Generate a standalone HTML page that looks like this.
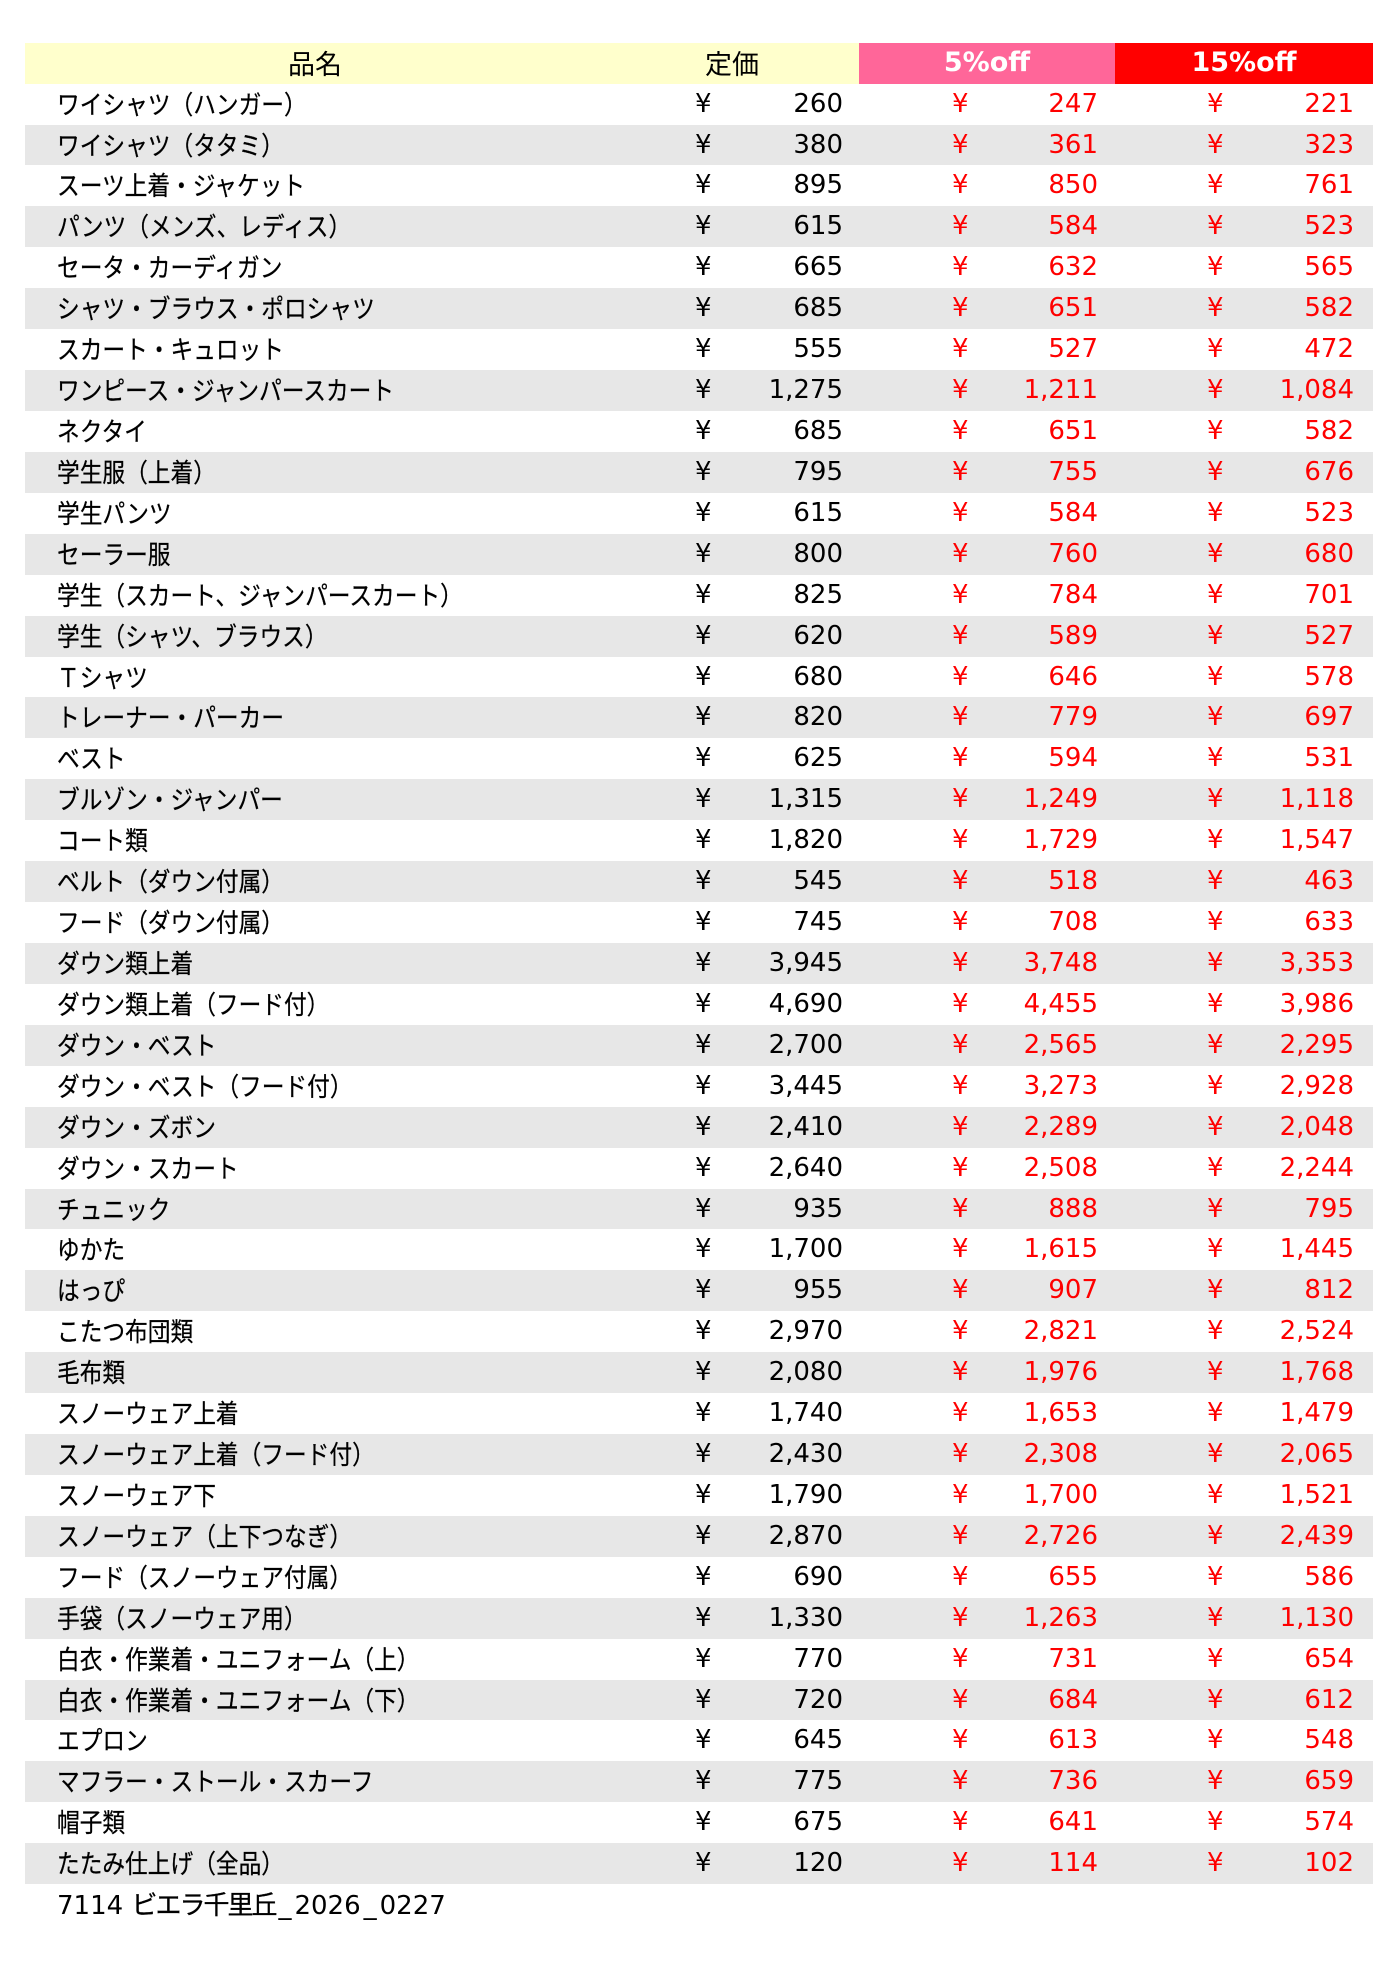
<!DOCTYPE html>
<html><head><meta charset="utf-8">
<style>
html,body{margin:0;padding:0;background:#fff;}
body{width:1400px;height:1972px;position:relative;overflow:hidden;}
#t{position:absolute;left:25px;top:42.7px;width:1348px;}
.r{position:relative;height:40.93px;width:1348px;}
.g{background:#e7e7e7;}
.h .c{position:absolute;top:0;height:40.93px;line-height:40.93px;text-align:center;}
.jp{font-family:"Noto Sans CJK JP","Liberation Sans",sans-serif;font-size:27px;color:#000;}
.n{position:absolute;left:32px;top:0;line-height:40.93px;white-space:nowrap;transform:scaleX(.873);transform-origin:0 0;font-family:"Noto Sans CJK JP","Liberation Sans",sans-serif;font-size:26px;color:#000;-webkit-text-stroke:0.25px #000;}
.y,.v{position:absolute;top:0;line-height:40.93px;font-family:"DejaVu Sans",sans-serif;font-size:26px;white-space:nowrap;}
.y1{left:670px;color:#000;}
.v1{right:530px;color:#000;}
.y2{left:927px;color:#f00;}
.v2{right:275px;color:#f00;}
.y3{left:1182px;color:#f00;}
.v3{right:19px;color:#f00;}
.off{font-family:"DejaVu Sans",sans-serif;font-weight:bold;font-size:27px;color:#fff;}
.ft{position:absolute;left:32px;top:0;line-height:40.93px;white-space:nowrap;font-family:"DejaVu Sans",sans-serif;font-size:26px;color:#000;}
.ft .k{font-family:"Noto Sans CJK JP",sans-serif;font-size:26px;letter-spacing:-2px;-webkit-text-stroke:0.25px #000;}
.ft .u{padding:0 3px;}
</style></head><body>
<div id="t">
<div class="r h">
<div class="c" style="left:0;width:834px;background:#ffffcc;"></div>
<div class="c jp" style="left:0;width:580px;">品名</div>
<div class="c jp" style="left:580px;width:254px;">定価</div>
<div class="c off" style="left:834px;width:256px;background:#ff6699;">5%off</div>
<div class="c off" style="left:1090px;width:258px;background:#ff0000;">15%off</div>
</div>
<div class="r"><span class="n">ワイシャツ（ハンガー）</span><span class="y y1">¥</span><span class="v v1">260</span><span class="y y2">¥</span><span class="v v2">247</span><span class="y y3">¥</span><span class="v v3">221</span></div>
<div class="r g"><span class="n">ワイシャツ（タタミ）</span><span class="y y1">¥</span><span class="v v1">380</span><span class="y y2">¥</span><span class="v v2">361</span><span class="y y3">¥</span><span class="v v3">323</span></div>
<div class="r"><span class="n">スーツ上着・ジャケット</span><span class="y y1">¥</span><span class="v v1">895</span><span class="y y2">¥</span><span class="v v2">850</span><span class="y y3">¥</span><span class="v v3">761</span></div>
<div class="r g"><span class="n">パンツ（メンズ、レディス）</span><span class="y y1">¥</span><span class="v v1">615</span><span class="y y2">¥</span><span class="v v2">584</span><span class="y y3">¥</span><span class="v v3">523</span></div>
<div class="r"><span class="n">セータ・カーディガン</span><span class="y y1">¥</span><span class="v v1">665</span><span class="y y2">¥</span><span class="v v2">632</span><span class="y y3">¥</span><span class="v v3">565</span></div>
<div class="r g"><span class="n">シャツ・ブラウス・ポロシャツ</span><span class="y y1">¥</span><span class="v v1">685</span><span class="y y2">¥</span><span class="v v2">651</span><span class="y y3">¥</span><span class="v v3">582</span></div>
<div class="r"><span class="n">スカート・キュロット</span><span class="y y1">¥</span><span class="v v1">555</span><span class="y y2">¥</span><span class="v v2">527</span><span class="y y3">¥</span><span class="v v3">472</span></div>
<div class="r g"><span class="n">ワンピース・ジャンパースカート</span><span class="y y1">¥</span><span class="v v1">1,275</span><span class="y y2">¥</span><span class="v v2">1,211</span><span class="y y3">¥</span><span class="v v3">1,084</span></div>
<div class="r"><span class="n">ネクタイ</span><span class="y y1">¥</span><span class="v v1">685</span><span class="y y2">¥</span><span class="v v2">651</span><span class="y y3">¥</span><span class="v v3">582</span></div>
<div class="r g"><span class="n">学生服（上着）</span><span class="y y1">¥</span><span class="v v1">795</span><span class="y y2">¥</span><span class="v v2">755</span><span class="y y3">¥</span><span class="v v3">676</span></div>
<div class="r"><span class="n">学生パンツ</span><span class="y y1">¥</span><span class="v v1">615</span><span class="y y2">¥</span><span class="v v2">584</span><span class="y y3">¥</span><span class="v v3">523</span></div>
<div class="r g"><span class="n">セーラー服</span><span class="y y1">¥</span><span class="v v1">800</span><span class="y y2">¥</span><span class="v v2">760</span><span class="y y3">¥</span><span class="v v3">680</span></div>
<div class="r"><span class="n">学生（スカート、ジャンパースカート）</span><span class="y y1">¥</span><span class="v v1">825</span><span class="y y2">¥</span><span class="v v2">784</span><span class="y y3">¥</span><span class="v v3">701</span></div>
<div class="r g"><span class="n">学生（シャツ、ブラウス）</span><span class="y y1">¥</span><span class="v v1">620</span><span class="y y2">¥</span><span class="v v2">589</span><span class="y y3">¥</span><span class="v v3">527</span></div>
<div class="r"><span class="n">Ｔシャツ</span><span class="y y1">¥</span><span class="v v1">680</span><span class="y y2">¥</span><span class="v v2">646</span><span class="y y3">¥</span><span class="v v3">578</span></div>
<div class="r g"><span class="n">トレーナー・パーカー</span><span class="y y1">¥</span><span class="v v1">820</span><span class="y y2">¥</span><span class="v v2">779</span><span class="y y3">¥</span><span class="v v3">697</span></div>
<div class="r"><span class="n">ベスト</span><span class="y y1">¥</span><span class="v v1">625</span><span class="y y2">¥</span><span class="v v2">594</span><span class="y y3">¥</span><span class="v v3">531</span></div>
<div class="r g"><span class="n">ブルゾン・ジャンパー</span><span class="y y1">¥</span><span class="v v1">1,315</span><span class="y y2">¥</span><span class="v v2">1,249</span><span class="y y3">¥</span><span class="v v3">1,118</span></div>
<div class="r"><span class="n">コート類</span><span class="y y1">¥</span><span class="v v1">1,820</span><span class="y y2">¥</span><span class="v v2">1,729</span><span class="y y3">¥</span><span class="v v3">1,547</span></div>
<div class="r g"><span class="n">ベルト（ダウン付属）</span><span class="y y1">¥</span><span class="v v1">545</span><span class="y y2">¥</span><span class="v v2">518</span><span class="y y3">¥</span><span class="v v3">463</span></div>
<div class="r"><span class="n">フード（ダウン付属）</span><span class="y y1">¥</span><span class="v v1">745</span><span class="y y2">¥</span><span class="v v2">708</span><span class="y y3">¥</span><span class="v v3">633</span></div>
<div class="r g"><span class="n">ダウン類上着</span><span class="y y1">¥</span><span class="v v1">3,945</span><span class="y y2">¥</span><span class="v v2">3,748</span><span class="y y3">¥</span><span class="v v3">3,353</span></div>
<div class="r"><span class="n">ダウン類上着（フード付）</span><span class="y y1">¥</span><span class="v v1">4,690</span><span class="y y2">¥</span><span class="v v2">4,455</span><span class="y y3">¥</span><span class="v v3">3,986</span></div>
<div class="r g"><span class="n">ダウン・ベスト</span><span class="y y1">¥</span><span class="v v1">2,700</span><span class="y y2">¥</span><span class="v v2">2,565</span><span class="y y3">¥</span><span class="v v3">2,295</span></div>
<div class="r"><span class="n">ダウン・ベスト（フード付）</span><span class="y y1">¥</span><span class="v v1">3,445</span><span class="y y2">¥</span><span class="v v2">3,273</span><span class="y y3">¥</span><span class="v v3">2,928</span></div>
<div class="r g"><span class="n">ダウン・ズボン</span><span class="y y1">¥</span><span class="v v1">2,410</span><span class="y y2">¥</span><span class="v v2">2,289</span><span class="y y3">¥</span><span class="v v3">2,048</span></div>
<div class="r"><span class="n">ダウン・スカート</span><span class="y y1">¥</span><span class="v v1">2,640</span><span class="y y2">¥</span><span class="v v2">2,508</span><span class="y y3">¥</span><span class="v v3">2,244</span></div>
<div class="r g"><span class="n">チュニック</span><span class="y y1">¥</span><span class="v v1">935</span><span class="y y2">¥</span><span class="v v2">888</span><span class="y y3">¥</span><span class="v v3">795</span></div>
<div class="r"><span class="n">ゆかた</span><span class="y y1">¥</span><span class="v v1">1,700</span><span class="y y2">¥</span><span class="v v2">1,615</span><span class="y y3">¥</span><span class="v v3">1,445</span></div>
<div class="r g"><span class="n">はっぴ</span><span class="y y1">¥</span><span class="v v1">955</span><span class="y y2">¥</span><span class="v v2">907</span><span class="y y3">¥</span><span class="v v3">812</span></div>
<div class="r"><span class="n">こたつ布団類</span><span class="y y1">¥</span><span class="v v1">2,970</span><span class="y y2">¥</span><span class="v v2">2,821</span><span class="y y3">¥</span><span class="v v3">2,524</span></div>
<div class="r g"><span class="n">毛布類</span><span class="y y1">¥</span><span class="v v1">2,080</span><span class="y y2">¥</span><span class="v v2">1,976</span><span class="y y3">¥</span><span class="v v3">1,768</span></div>
<div class="r"><span class="n">スノーウェア上着</span><span class="y y1">¥</span><span class="v v1">1,740</span><span class="y y2">¥</span><span class="v v2">1,653</span><span class="y y3">¥</span><span class="v v3">1,479</span></div>
<div class="r g"><span class="n">スノーウェア上着（フード付）</span><span class="y y1">¥</span><span class="v v1">2,430</span><span class="y y2">¥</span><span class="v v2">2,308</span><span class="y y3">¥</span><span class="v v3">2,065</span></div>
<div class="r"><span class="n">スノーウェア下</span><span class="y y1">¥</span><span class="v v1">1,790</span><span class="y y2">¥</span><span class="v v2">1,700</span><span class="y y3">¥</span><span class="v v3">1,521</span></div>
<div class="r g"><span class="n">スノーウェア（上下つなぎ）</span><span class="y y1">¥</span><span class="v v1">2,870</span><span class="y y2">¥</span><span class="v v2">2,726</span><span class="y y3">¥</span><span class="v v3">2,439</span></div>
<div class="r"><span class="n">フード（スノーウェア付属）</span><span class="y y1">¥</span><span class="v v1">690</span><span class="y y2">¥</span><span class="v v2">655</span><span class="y y3">¥</span><span class="v v3">586</span></div>
<div class="r g"><span class="n">手袋（スノーウェア用）</span><span class="y y1">¥</span><span class="v v1">1,330</span><span class="y y2">¥</span><span class="v v2">1,263</span><span class="y y3">¥</span><span class="v v3">1,130</span></div>
<div class="r"><span class="n">白衣・作業着・ユニフォーム（上）</span><span class="y y1">¥</span><span class="v v1">770</span><span class="y y2">¥</span><span class="v v2">731</span><span class="y y3">¥</span><span class="v v3">654</span></div>
<div class="r g"><span class="n">白衣・作業着・ユニフォーム（下）</span><span class="y y1">¥</span><span class="v v1">720</span><span class="y y2">¥</span><span class="v v2">684</span><span class="y y3">¥</span><span class="v v3">612</span></div>
<div class="r"><span class="n">エプロン</span><span class="y y1">¥</span><span class="v v1">645</span><span class="y y2">¥</span><span class="v v2">613</span><span class="y y3">¥</span><span class="v v3">548</span></div>
<div class="r g"><span class="n">マフラー・ストール・スカーフ</span><span class="y y1">¥</span><span class="v v1">775</span><span class="y y2">¥</span><span class="v v2">736</span><span class="y y3">¥</span><span class="v v3">659</span></div>
<div class="r"><span class="n">帽子類</span><span class="y y1">¥</span><span class="v v1">675</span><span class="y y2">¥</span><span class="v v2">641</span><span class="y y3">¥</span><span class="v v3">574</span></div>
<div class="r g"><span class="n">たたみ仕上げ（全品）</span><span class="y y1">¥</span><span class="v v1">120</span><span class="y y2">¥</span><span class="v v2">114</span><span class="y y3">¥</span><span class="v v3">102</span></div>
<div class="r"><span class="ft">7114 <span class="k">ビエラ千里丘</span><span class="u">_</span>2026<span class="u">_</span>0227</span></div>
</div>
</body></html>
